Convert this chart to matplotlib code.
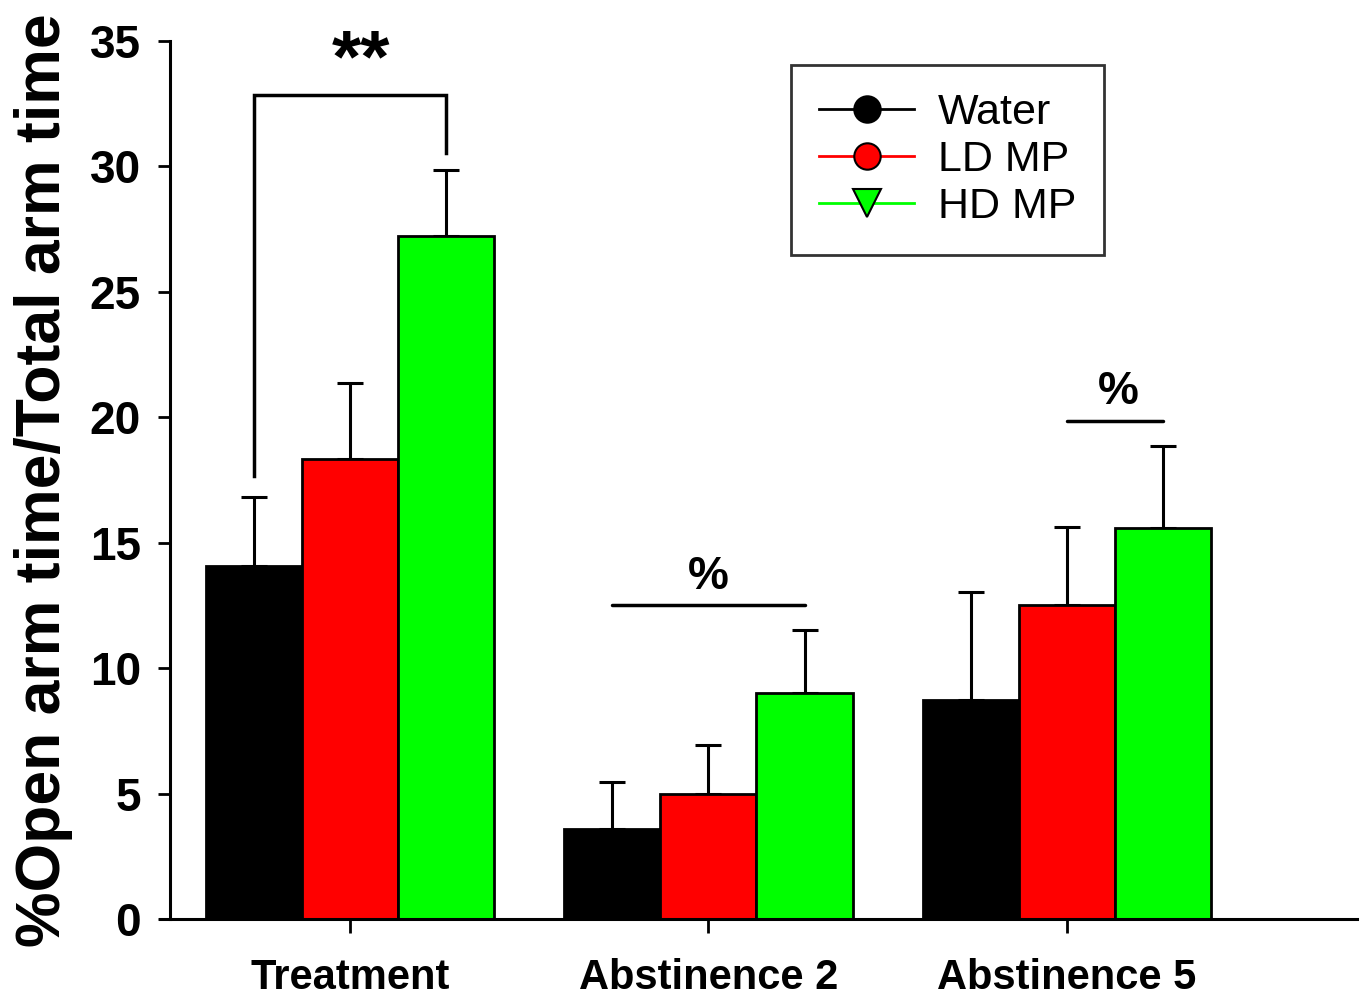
import matplotlib
matplotlib.use("Agg")
import matplotlib.pyplot as plt
from matplotlib.lines import Line2D
import numpy as np

plt.rcParams['font.family'] = ['Liberation Sans', 'DejaVu Sans']

groups = ["Treatment", "Abstinence 2", "Abstinence 5"]
series = ["Water", "LD MP", "HD MP"]
water = [14.07, 3.59, 8.73]
ld_mp = [18.35, 4.98, 12.51]
hd_mp = [27.22, 9.01, 15.58]
water_err = [2.75, 1.87, 4.30]
ld_mp_err = [3.01, 1.95, 3.11]
hd_mp_err = [2.63, 2.51, 3.27]
colors = ["#000000", "#ff0000", "#00ff00"]
markers = ["o", "o", "v"]
yticks = [0, 5, 10, 15, 20, 25, 30, 35]

fig = plt.figure(figsize=(13.63, 10), dpi=100)
ax = fig.add_axes([0.1247, 0.081, 0.8709, 0.878])

x = np.arange(len(groups))
w = 0.268
vals = [water, ld_mp, hd_mp]
errs = [water_err, ld_mp_err, hd_mp_err]
for i, (v, e, c) in enumerate(zip(vals, errs, colors)):
    pos = x + (i - 1) * w
    ax.bar(pos, v, width=w, color=c, edgecolor="black", linewidth=2, zorder=2)
    ax.errorbar(pos, v, yerr=[np.zeros(len(v)), e], fmt="none", ecolor="black",
                elinewidth=2.2, capsize=9.5, capthick=2.2, zorder=1)

ax.set_xlim(-0.502, 2.809)
ax.set_ylim(0, 35)
ax.set_yticks(yticks)
ax.set_yticklabels([str(t) for t in yticks], fontsize=33, fontweight="bold")
ax.set_xticks(x)
ax.set_xticklabels(groups, fontsize=30, fontweight="bold")
ax.tick_params(axis="y", direction="out", length=9, width=2, pad=12)
ax.tick_params(axis="x", direction="out", length=10, width=2, pad=18)
for s in ["top", "right"]:
    ax.spines[s].set_visible(False)
for s in ["left", "bottom"]:
    ax.spines[s].set_linewidth(2.2)
ax.spines["bottom"].set_bounds(-0.53, 2.809)
ax.set_ylabel("%Open arm time/Total arm time", fontsize=45, fontweight="bold", labelpad=12)

lw = 2.5
# Treatment bracket
ax.plot([-w, -w, w, w], [17.66, 32.84, 32.84, 30.53], color="black", lw=lw, zorder=3,
        solid_joinstyle="miter")
ax.text(0.03, 32.8, "**", ha="center", va="bottom", fontsize=54, fontweight="bold")
# Abstinence 2
ax.plot([1 - w, 1 + w], [12.51, 12.51], color="black", lw=lw, solid_capstyle="round")
ax.text(1.0, 12.75, "%", ha="center", va="bottom", fontsize=33, fontweight="bold")
# Abstinence 5
ax.plot([2, 2 + w], [19.85, 19.85], color="black", lw=lw, solid_capstyle="round")
ax.text(2 + w / 2 + 0.01, 20.15, "%", ha="center", va="bottom", fontsize=33, fontweight="bold")

handles = [Line2D([0], [0], color=c, marker=m, markersize=19 if m == "o" else 20,
                  markerfacecolor=c, markeredgecolor="black", markeredgewidth=1.5, lw=2)
           for c, m in zip(colors, markers)]
leg = ax.legend(handles, series, loc="upper left", bbox_to_anchor=(0.5235, 0.9725),
                fontsize=31, frameon=True, fancybox=False, edgecolor="black",
                handlelength=2.2, handletextpad=0.55, borderpad=0.65, labelspacing=0.16,
                borderaxespad=0)
leg.get_frame().set_linewidth(2)

fig.savefig("out.png", dpi=100)
